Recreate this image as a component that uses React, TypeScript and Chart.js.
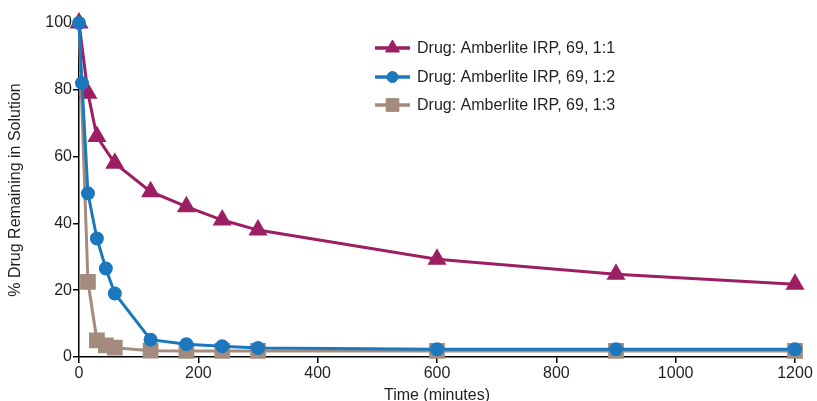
import { Chart, registerables } from "chart.js";
import { useEffect, useRef } from "react";

Chart.register(...registerables);

const ratio11Times = [0, 15, 30, 60, 120, 180, 240, 300, 600, 900, 1200];
const ratio11Values = [100, 79, 66, 58, 49.5, 45, 41, 38, 29.3, 24.8, 21.8];

const ratio12Times = [0, 5, 15, 30, 45, 60, 120, 180, 240, 300, 600, 900, 1200];
const ratio12Values = [100, 82, 49, 35.5, 26.5, 19, 5.2, 3.8, 3.2, 2.7, 2.3, 2.3, 2.3];

const ratio13Times = [0, 15, 30, 45, 60, 120, 180, 240, 300, 600, 900, 1200];
const ratio13Values = [100, 22.5, 5, 3.5, 2.8, 1.9, 1.8, 1.8, 1.8, 1.8, 1.8, 1.8];

const seriesLabels = [
  "Drug: Amberlite IRP, 69, 1:1",
  "Drug: Amberlite IRP, 69, 1:2",
  "Drug: Amberlite IRP, 69, 1:3",
];

const FONT = "Liberation Sans, Arial, sans-serif";
const TEXT = "#231f20";

function drawMarker(ctx: CanvasRenderingContext2D, style: string, x: number, y: number, r: number) {
  ctx.beginPath();
  if (style === "triangle") {
    const s = (Math.PI * 2) / 3;
    ctx.moveTo(x, y - r);
    ctx.lineTo(x + Math.sin(s) * r, y + r / 2);
    ctx.lineTo(x - Math.sin(s) * r, y + r / 2);
    ctx.closePath();
  } else if (style === "rect") {
    const h = r * Math.SQRT1_2;
    ctx.rect(x - h, y - h, 2 * h, 2 * h);
  } else {
    ctx.arc(x, y, r, 0, Math.PI * 2);
  }
  ctx.fill();
  ctx.stroke();
}

// legend drawn inside the plot, line swatch with the marker on top
const insideLegend = {
  id: "insideLegend",
  afterDraw(chart: Chart) {
    const ctx = chart.ctx;
    const x0 = 375;
    const rows = [48, 77, 105];
    const radii = [8, 5.5, 9];
    ctx.save();
    chart.data.datasets.forEach((ds: any, i: number) => {
      const y = rows[i];
      ctx.strokeStyle = ds.borderColor;
      ctx.lineWidth = 3.5;
      ctx.beginPath();
      ctx.moveTo(x0, y);
      ctx.lineTo(x0 + 35, y);
      ctx.stroke();
      ctx.fillStyle = ds.pointBackgroundColor;
      ctx.strokeStyle = ds.pointBackgroundColor;
      ctx.lineWidth = 1;
      drawMarker(ctx, ds.pointStyle, x0 + 17.5, y, radii[i]);
      ctx.fillStyle = TEXT;
      ctx.font = "16px " + FONT;
      ctx.textBaseline = "middle";
      ctx.fillText(ds.label, x0 + 42, y + 1);
    });
    ctx.restore();
  },
};

export default function App() {
  const canvasRef = useRef<HTMLCanvasElement>(null);
  const chartRef = useRef<Chart | null>(null);

  useEffect(() => {
    if (!canvasRef.current) return;
    if (chartRef.current) chartRef.current.destroy();

    const toPoints = (xs: number[], ys: number[]) => xs.map((x, i) => ({ x, y: ys[i] }));
    const tickFont = { family: FONT, size: 16 };

    chartRef.current = new Chart(canvasRef.current, {
      type: "line",
      data: {
        datasets: [
          {
            label: seriesLabels[0],
            data: toPoints(ratio11Times, ratio11Values),
            borderColor: "#9c1f64",
            backgroundColor: "#9c1f64",
            pointBackgroundColor: "#9c1f64",
            pointBorderColor: "#9c1f64",
            pointStyle: "triangle",
            pointRadius: 8,
            borderWidth: 3,
            clip: false,
            order: 2,
          },
          {
            label: seriesLabels[1],
            data: toPoints(ratio12Times, ratio12Values),
            borderColor: "#1c78bd",
            backgroundColor: "#1c78bd",
            pointBackgroundColor: "#1c78bd",
            pointBorderColor: "#1c78bd",
            pointStyle: "circle",
            pointRadius: 5.5,
            borderWidth: 3,
            clip: false,
            order: 0,
          },
          {
            label: seriesLabels[2],
            data: toPoints(ratio13Times, ratio13Values),
            borderColor: "#a38b7e",
            backgroundColor: "#a38b7e",
            pointBackgroundColor: "#a38b7e",
            pointBorderColor: "#a38b7e",
            pointStyle: "rect",
            // no visible square at t = 0 in the original
            pointRadius: (c: any) => (c.dataIndex === 0 ? 0 : 9),
            borderWidth: 3,
            clip: false,
            order: 1,
          },
        ] as any,
      },
      options: {
        animation: false,
        responsive: false,
        devicePixelRatio: 1,
        layout: { padding: { left: 0, right: 22, top: 23, bottom: 0 } },
        plugins: { legend: { display: false }, tooltip: { enabled: false } },
        scales: {
          x: {
            type: "linear",
            min: 0,
            max: 1200,
            afterFit: (s: any) => {
              s.height = 48;
            },
            ticks: {
              stepSize: 200,
              color: TEXT,
              font: tickFont,
              padding: 1,
              callback: (v: any) => String(v),
            },
            grid: { drawOnChartArea: false, drawTicks: true, tickLength: 6, color: "#000", lineWidth: 1.5 },
            border: { display: true, color: "#000", width: 1.5 },
            title: {
              display: true,
              text: "Time (minutes)",
              color: TEXT,
              font: tickFont,
              padding: 0,
            },
          },
          y: {
            min: 0,
            max: 100,
            afterFit: (s: any) => {
              s.width = 79;
            },
            ticks: {
              stepSize: 20,
              color: TEXT,
              font: tickFont,
              padding: 1,
              callback: (v: any) => String(v),
            },
            grid: { drawOnChartArea: false, drawTicks: true, tickLength: 6, color: "#000", lineWidth: 1.5 },
            border: { display: true, color: "#000", width: 1.5 },
            title: {
              display: true,
              text: "% Drug Remaining in Solution",
              color: TEXT,
              font: tickFont,
              padding: { top: 6, bottom: 0 },
            },
          },
        },
      },
      plugins: [insideLegend],
    });

    return () => {
      if (chartRef.current) {
        chartRef.current.destroy();
        chartRef.current = null;
      }
    };
  }, []);

  return (
    <div style={{ position: "fixed", left: 0, top: 0, width: 817, height: 401, overflow: "hidden", background: "#fff" }}>
      <canvas ref={canvasRef} width={817} height={405} style={{ display: "block" }} />
    </div>
  );
}
